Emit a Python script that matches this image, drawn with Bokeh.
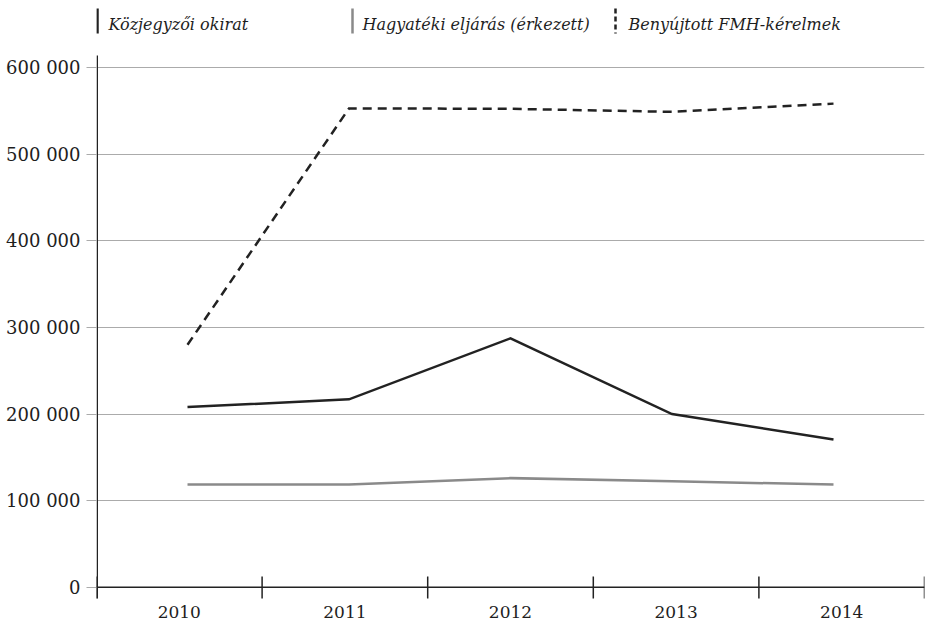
from bokeh.plotting import figure
from bokeh.models import Range1d, FixedTicker, Span
from bokeh.embed import file_html
from bokeh.resources import INLINE
from bokeh.core.properties import value

# ---- data ----
years = [2010, 2011, 2012, 2013, 2014]
kozjegyzoi = [208000, 217000, 287500, 200000, 170500]
hagyateki = [118500, 118500, 126000, 122500, 118500]
fmh = [280000, 553000, 552500, 549000, 558500]
series_names = ["Közjegyzői okirat", "Hagyatéki eljárás (érkezett)", "Benyújtott FMH-kérelmek"]
y_ticks = [0, 100000, 200000, 300000, 400000, 500000, 600000]
year_labels = [str(y) for y in years]

# ---- style / layout ----
W, H = 927, 620
BL, BR = 96, 3            # left / right border (px)
FB = 605                  # frame bottom (px from figure top), as laid out by bokeh
ZERO_PX, TOP_TICK_PX = 587.7, 67.3   # pixel rows of the 0 and 600 000 gridlines
AXIS_TOP_PX, AXIS_BOT_PX = 55, 599   # visible extent of the y axis line
TICK_TOP_PX = 577
per_px = (y_ticks[-1] - y_ticks[0]) / (ZERO_PX - TOP_TICK_PX)
Y0 = y_ticks[0] - (FB - ZERO_PX) * per_px
Y_TOP = y_ticks[-1] + TOP_TICK_PX * per_px
FONT = "DejaVu Serif"
TXT = "#1e1e1e"
DARK = "#222222"
GRAY = "#8a8a8a"
GRID = "#ababab"
series_colors = [DARK, GRAY, DARK]
series_dash = ["solid", "solid", "9 6"]

n = len(years)
p = figure(width=W, height=H, x_range=Range1d(0, n), y_range=Range1d(Y0, Y_TOP),
           output_backend="svg", toolbar_location=None,
           min_border_left=BL, min_border_right=BR, min_border_top=0, min_border_bottom=0)
p.extra_x_ranges = {"pts": Range1d(years[0] - 0.5635, years[-1] + 0.5635),
                    "px": Range1d(BL, W - BR)}
p.extra_y_ranges = {"px": Range1d(FB, 0)}
p.outline_line_color = None
p.background_fill_color = "white"
p.border_fill_color = "white"

# x axis: labels at band centres
xa = p.xaxis[0]
xa.ticker = FixedTicker(ticks=[i + 0.5 for i in range(n)])
xa.major_label_overrides = {i + 0.5: lab for i, lab in enumerate(year_labels)}
xa.major_tick_in = 0
xa.major_tick_out = 0
xa.minor_tick_line_color = None
xa.axis_line_color = None
xa.major_label_standoff = 1
xa.major_label_text_font = FONT
xa.major_label_text_font_size = "17px"
xa.major_label_text_color = TXT

# y axis (its line is drawn separately so that it stops below the legend)
ya = p.yaxis[0]
ya.ticker = FixedTicker(ticks=y_ticks)
ya.major_label_overrides = {v: f"{v:,}".replace(",", " ") for v in y_ticks}
ya.major_tick_in = 0
ya.major_tick_out = 10
ya.major_tick_line_color = GRID
ya.major_tick_line_width = 1
ya.minor_tick_line_color = None
ya.axis_line_color = None
ya.major_label_standoff = 6
ya.major_label_text_font = FONT
ya.major_label_text_font_size = "18px"
ya.major_label_text_color = TXT

p.xgrid.visible = False
p.ygrid.ticker = FixedTicker(ticks=y_ticks)
p.ygrid.grid_line_color = GRID
p.ygrid.grid_line_width = 1

p.add_layout(Span(location=0, dimension="width", line_color=DARK, line_width=1.5))
# y axis line
p.segment(x0=[BL + 0.75], y0=[AXIS_BOT_PX], x1=[BL + 0.75], y1=[AXIS_TOP_PX],
          x_range_name="px", y_range_name="px", line_color=DARK, line_width=1.5)
# category boundary ticks across the zero line
bounds = list(range(n + 1))
p.segment(x0=bounds, y0=[TICK_TOP_PX] * len(bounds), x1=bounds, y1=[AXIS_BOT_PX] * len(bounds),
          y_range_name="px", line_color=DARK, line_width=1.5)

for vals, col, dash in zip([kozjegyzoi, hagyateki, fmh], series_colors, series_dash):
    p.line(x=years, y=vals, x_range_name="pts", line_color=col, line_width=2.5,
           line_dash=dash, line_join="miter")

# ---- legend (top strip) ----
bar_x = [BL + 1, 352, 615]
txt_x = [108, 362, 628]
leg_dash = ["solid", "solid", "5 3"]
for i, name in enumerate(series_names):
    p.segment(x0=[bar_x[i]], y0=[8], x1=[bar_x[i]], y1=[33],
              x_range_name="px", y_range_name="px",
              line_color=series_colors[i], line_width=2.5, line_dash=leg_dash[i])
    p.text(x=[txt_x[i]], y=[24], text=[name], x_range_name="px", y_range_name="px",
           text_font=value(FONT), text_font_style="italic", text_font_size="16px",
           text_color=TXT, text_baseline="alphabetic", text_align="left")

open("out.html", "w").write(file_html(p, INLINE))
